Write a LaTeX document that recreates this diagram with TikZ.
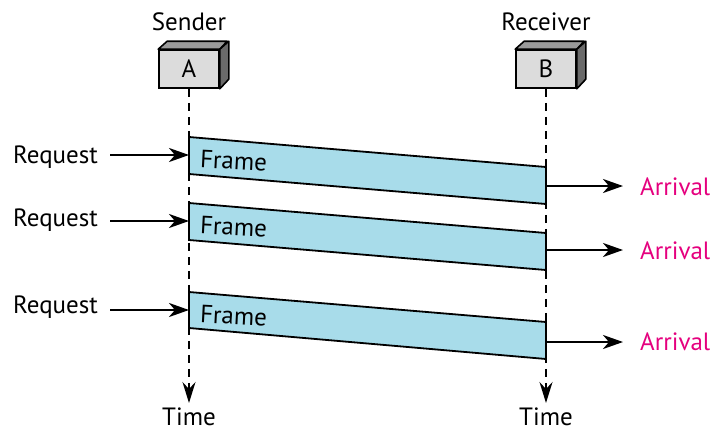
\documentclass[tikz,border=0pt]{standalone}
\usepackage{fontspec}
\setmainfont{PT Sans}
\usetikzlibrary{arrows.meta}
\definecolor{framefill}{HTML}{A8DCEA}
\definecolor{arrivalc}{HTML}{E5007E}
\definecolor{boxfront}{HTML}{DCDCDC}
\definecolor{boxtop}{HTML}{9A9A9A}
\definecolor{boxside}{HTML}{6A6A6A}
\begin{document}
\begin{tikzpicture}[x=1pt,y=-1pt,
  lbl/.style={font=\fontsize{25}{28}\selectfont, inner sep=0pt},
  arrlbl/.style={lbl, text=arrivalc},
  station/.style={draw=black, line width=1.6pt, fill=boxfront, minimum width=60pt, minimum height=38pt, inner sep=0pt, font=\fontsize{25}{28}\selectfont},
  lifeline/.style={line width=1.6pt, dash pattern=on 8pt off 6pt, -{Stealth[length=21pt,width=13pt,inset=7pt]}},
  msg/.style={line width=2.6pt, -{Stealth[length=20pt,width=14pt,inset=6pt]}},
  framebox/.style={draw=black, line width=1.8pt, fill=framefill, line join=miter}
]
\useasboundingbox (0,0) rectangle (715,432);

% stations
\node[station] (A) at (189,69) {A};
\node[station] (B) at (546,69) {B};
\foreach \n in {A,B}{
  \fill[boxtop, draw=black, line width=1.6pt, line join=round]
    (\n.north west) -- ++(9,-8) -- ++(60,0) -- (\n.north east) -- cycle;
  \fill[boxside, draw=black, line width=1.6pt, line join=round]
    (\n.north east) -- ++(9,-8) -- ++(0,38) -- (\n.south east) -- cycle;
}
\node[lbl] (sender) at (189,22) {Sender};
\node[lbl] (receiver) at (546,22) {Receiver};

% time labels and lifelines
\node[lbl] (timeA) at (189,417) {Time};
\node[lbl] (timeB) at (546,417) {Time};
\draw[lifeline] (A.south) -- (189,403) coordinate (tA);
\draw[lifeline] (B.south) -- (546,403) coordinate (tB);

% frames
\draw[framebox] (189,137) coordinate (f1a) -- (546,167) -- (546,204) coordinate (f1r) -- (189,174) -- cycle;
\draw[framebox] (189,203) coordinate (f2a) -- (546,233) -- (546,270) coordinate (f2r) -- (189,240) -- cycle;
\draw[framebox] (189,292) coordinate (f3a) -- (546,322) -- (546,359) coordinate (f3r) -- (189,328) -- cycle;
\node[lbl, anchor=west, rotate=-3] (fr1) at (200,159) {Frame};
\node[lbl, anchor=west, rotate=-3] (fr2) at (200,225) {Frame};
\node[lbl, anchor=west, rotate=-3] (fr3) at (200,314) {Frame};

% requests
\node[lbl, anchor=west] (r1) at (13,157) {Request};
\node[lbl, anchor=west] (r2) at (13,220) {Request};
\node[lbl, anchor=west] (r3) at (13,307) {Request};
\coordinate (e1) at (189,155);
\coordinate (e2) at (189,221);
\coordinate (e3) at (189,310);
\draw[msg] (110,155) -- (e1);
\draw[msg] (110,221) -- (e2);
\draw[msg] (110,310) -- (e3);

% arrivals
\node[arrlbl, anchor=west] (a1) at (640,187) {Arrival};
\node[arrlbl, anchor=west] (a2) at (640,251) {Arrival};
\node[arrlbl, anchor=west] (a3) at (640,342) {Arrival};
\coordinate (s1) at (546,186);
\coordinate (s2) at (546,250);
\coordinate (s3) at (546,342);
\draw[msg] (s1) -- (623,186);
\draw[msg] (s2) -- (623,250);
\draw[msg] (s3) -- (623,342);
\end{tikzpicture}
\end{document}
